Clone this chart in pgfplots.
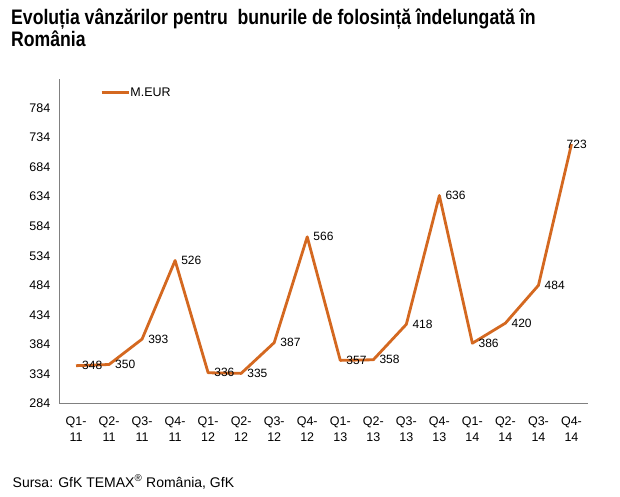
\documentclass[border=0pt]{standalone}
\usepackage{fontspec}
\setmainfont{Liberation Sans}
\newfontfamily\titlefont[FakeStretch=0.84]{Liberation Sans}
\usepackage{pgfplots}
\pgfplotsset{compat=1.18}
\definecolor{lineor}{RGB}{212,104,32}
\definecolor{axgray}{RGB}{128,128,128}
\begin{document}
\begin{tikzpicture}
\useasboundingbox[fill=white] (0pt,0pt) rectangle (620pt,496pt);
\node[anchor=base west, inner sep=0pt, align=left, font=\titlefont\bfseries\fontsize{21pt}{22pt}\selectfont] at (11pt,471pt)
  {Evoluția vânzărilor pentru\ \ bunurile de folosință îndelungată\ în};
\node[anchor=base west, inner sep=0pt, font=\titlefont\bfseries\fontsize{21pt}{22pt}\selectfont] at (11pt,449pt) {România};
\node[anchor=west, inner sep=0pt, font=\fontsize{14pt}{16pt}\selectfont] at (12.5pt,14pt) {Sursa: GfK TEMAX\textsuperscript{®} România, GfK};
\begin{axis}[
  at={(59.5pt,92.5pt)}, anchor=south west,
  scale only axis, width=528.5pt, height=325pt,
  xmin=-0.5, xmax=15.5, ymin=284, ymax=834,
  axis x line*=bottom, axis y line*=left,
  axis line style={-, draw=axgray, line width=1pt},
  major tick length=0pt,
  ytick={284,334,384,434,484,534,584,634,684,734,784},
  xtick={0,...,15},
  xticklabels={{Q1-\\11},{Q2-\\11},{Q3-\\11},{Q4-\\11},{Q1-\\12},{Q2-\\12},{Q3-\\12},{Q4-\\12},{Q1-\\13},{Q2-\\13},{Q3-\\13},{Q4-\\13},{Q1-\\14},{Q2-\\14},{Q3-\\14},{Q4-\\14}},
  xticklabel style={align=center, inner sep=0pt, anchor=north, yshift=-13pt, font=\fontsize{12.5pt}{16pt}\selectfont},
  yticklabel style={inner sep=0pt, anchor=east, xshift=-9pt, font=\fontsize{12.5pt}{14pt}\selectfont},
  /pgf/number format/assume math mode=true,
  scaled y ticks=false,
  clip=false,
  legend style={at={(0.0766,1)}, anchor=west, yshift=-14pt, draw=none, fill=none, inner sep=0pt, font=\fontsize{12.5pt}{14pt}\selectfont, nodes={inner sep=0.5pt}},
  legend image code/.code={\draw[#1] (0pt,0pt) -- (27pt,0pt);},
]
\addplot[color=lineor, line width=2.8pt, line join=round, mark=none] coordinates {
(0,348) (1,350) (2,393) (3,526) (4,336) (5,335) (6,387) (7,566)
(8,357) (9,358) (10,418) (11,636) (12,386) (13,420) (14,484) (15,723)
};
\addlegendentry{M.EUR}
\addplot[draw=none, mark=none, forget plot, nodes near coords, every node near coord/.append style={anchor=west, xshift=6pt, inner sep=0pt, font=\fontsize{12pt}{13pt}\selectfont, text=black}] coordinates {
(0,348) (1,350) (2,393) (3,526) (4,336) (5,335) (6,387) (7,566)
(8,357) (9,358) (10,418) (11,636) (12,386) (13,420) (14,484)
};
\addplot[draw=none, mark=none, forget plot, nodes near coords, every node near coord/.append style={anchor=west, xshift=-5pt, inner sep=0pt, font=\fontsize{12pt}{13pt}\selectfont, text=black}] coordinates {
(15,723)
};
\end{axis}
\end{tikzpicture}
\end{document}
